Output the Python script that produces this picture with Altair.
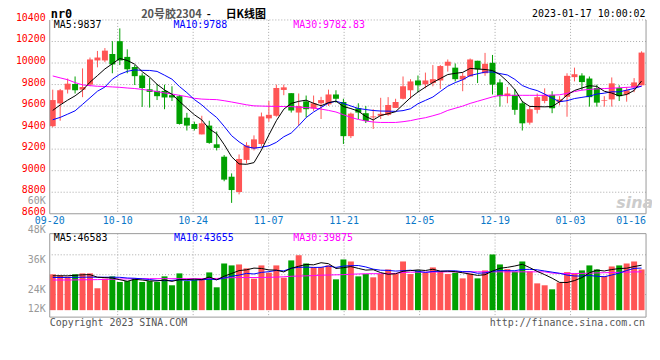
import altair as alt
import pandas as pd

# ---------------- data ----------------
opens = [9413, 9625, 9753, 9805, 9753, 9799, 10024, 10024, 10084, 10203,
         10057, 9963, 9884, 9756, 9741, 9741, 9701, 9692, 9492, 9434,
         9337, 9419, 9245, 9130, 8944, 8802, 9100, 9206, 9248, 9486,
         9510, 9750, 9720, 9540, 9644, 9577, 9626, 9616, 9708, 9638,
         9321, 9580, 9534, 9495, 9510, 9519, 9583, 9668, 9747, 9838,
         9802, 9814, 9838, 9975, 9957, 9847, 9875, 10021, 9905, 10002,
         9820, 9692, 9704, 9626, 9446, 9565, 9647, 9704, 9638, 9686,
         9869, 9884, 9856, 9768, 9650, 9662, 9768, 9708, 9774, 9793]
closes = [9656, 9747, 9808, 9747, 9777, 10033, 10051, 10115, 9987, 10024,
          9942, 9878, 9768, 9732, 9692, 9680, 9680, 9434, 9419, 9388,
          9440, 9258, 9212, 8917, 8820, 9109, 9236, 9291, 9504, 9519,
          9768, 9774, 9559, 9601, 9571, 9626, 9656, 9708, 9668, 9321,
          9530, 9540, 9461, 9504, 9528, 9610, 9638, 9784, 9829, 9793,
          9838, 9850, 9972, 10012, 9850, 9881, 10033, 9942, 9993, 9799,
          9692, 9717, 9565, 9440, 9571, 9683, 9704, 9580, 9662, 9881,
          9896, 9823, 9683, 9632, 9656, 9811, 9692, 9747, 9820, 10097]
highs = [9753, 9759, 9856, 9875, 9950, 10051, 10112, 10139, 10203, 10322,
         10127, 9981, 9905, 9860, 9805, 9799, 9784, 9704, 9537, 9455,
         9510, 9464, 9364, 9145, 8975, 9151, 9264, 9328, 9540, 9647,
         9799, 9799, 9720, 9717, 9698, 9698, 9686, 9753, 9747, 9668,
         9540, 9626, 9601, 9571, 9677, 9683, 9668, 9875, 9850, 9884,
         9911, 9981, 9981, 10033, 9996, 9911, 10042, 10021, 10094, 10075,
         9850, 9777, 9759, 9647, 9601, 9717, 9765, 9738, 9692, 9905,
         9957, 9905, 9875, 9799, 9692, 9866, 9793, 9777, 9860, 10109]
lows = [9404, 9464, 9717, 9717, 9683, 9784, 9960, 10008, 9905, 9981,
        9905, 9796, 9592, 9586, 9656, 9571, 9647, 9428, 9373, 9373,
        9337, 9250, 9188, 8902, 8701, 8780, 9066, 9188, 9227, 9455,
        9501, 9701, 9540, 9419, 9495, 9556, 9480, 9601, 9632, 9248,
        9303, 9480, 9443, 9388, 9480, 9510, 9583, 9662, 9668, 9729,
        9765, 9784, 9759, 9920, 9829, 9738, 9875, 9814, 9881, 9708,
        9595, 9626, 9519, 9373, 9428, 9531, 9626, 9534, 9607, 9501,
        9829, 9747, 9595, 9595, 9595, 9595, 9647, 9641, 9729, 9793]
ma5 = [9560, 9610, 9655, 9695, 9747, 9822, 9883, 9945, 9993, 10042,
       10024, 9989, 9920, 9869, 9802, 9750, 9710, 9644, 9581, 9520,
       9472, 9388, 9343, 9243, 9129, 9063, 9059, 9075, 9192, 9332,
       9464, 9571, 9625, 9644, 9655, 9626, 9603, 9632, 9646, 9596,
       9577, 9553, 9504, 9471, 9513, 9529, 9548, 9613, 9678, 9731,
       9776, 9819, 9856, 9893, 9904, 9913, 9950, 9944, 9940, 9930,
       9892, 9829, 9753, 9643, 9597, 9595, 9593, 9596, 9640, 9702,
       9745, 9768, 9789, 9783, 9738, 9721, 9695, 9708, 9745, 9833]
ma10 = [9473, 9495, 9525, 9556, 9616, 9677, 9738, 9777, 9850, 9895,
        9923, 9936, 9932, 9931, 9922, 9887, 9850, 9782, 9725, 9661,
        9611, 9549, 9494, 9412, 9325, 9268, 9223, 9209, 9218, 9231,
        9263, 9315, 9350, 9418, 9493, 9545, 9587, 9629, 9645, 9625,
        9601, 9578, 9568, 9559, 9554, 9553, 9551, 9558, 9575, 9622,
        9653, 9684, 9735, 9785, 9818, 9845, 9884, 9900, 9916, 9917,
        9902, 9889, 9848, 9791, 9763, 9744, 9711, 9674, 9641, 9650,
        9670, 9681, 9692, 9712, 9720, 9733, 9732, 9748, 9764, 9786]
ma30 = [9880, 9862, 9845, 9818, 9797, 9790, 9784, 9782, 9778, 9774,
        9768, 9763, 9755, 9745, 9735, 9722, 9712, 9700, 9688, 9672,
        9665, 9662, 9660, 9650, 9638, 9625, 9612, 9602, 9600, 9598,
        9597, 9596, 9595, 9590, 9586, 9582, 9572, 9560, 9545, 9520,
        9495, 9476, 9462, 9452, 9448, 9448, 9448, 9455, 9465, 9480,
        9492, 9510, 9530, 9560, 9580, 9600, 9625, 9645, 9665, 9685,
        9700, 9700, 9700, 9700, 9700, 9700, 9700, 9702, 9705, 9718,
        9735, 9748, 9755, 9760, 9763, 9766, 9770, 9774, 9778, 9783]

# volume in thousands of lots
vol = [37.3, 36.2, 34.9, 37.3, 38.3, 38.3, 22.8, 32.8, 35.2, 29.3,
       30.3, 32.8, 29.3, 30.3, 29.3, 35.2, 25.9, 38.3, 30.3, 31.8,
       32.8, 39.3, 23.8, 48.6, 46.6, 47.6, 43.5, 32.8, 46.6, 39.0,
       46.6, 33.8, 51.8, 57.2, 48.6, 44.8, 44.8, 46.6, 32.1, 52.8,
       50.7, 35.2, 37.6, 34.2, 37.6, 42.4, 37.6, 50.7, 37.6, 41.4,
       39.0, 44.5, 40.4, 37.6, 39.0, 33.1, 38.0, 33.1, 41.4, 58.0,
       47.6, 42.7, 40.1, 50.7, 40.4, 27.9, 25.9, 21.7, 28.7, 39.6,
       38.3, 41.4, 46.6, 42.4, 35.5, 45.5, 46.6, 48.6, 50.7, 42.4]
vma5 = [35.8, 35.8, 35.8, 36.3, 36.8, 37.0, 34.3, 33.9, 33.5, 31.7,
        30.1, 32.1, 31.4, 30.4, 30.4, 31.4, 30.0, 31.8, 31.8, 32.3,
        31.8, 34.5, 31.6, 35.3, 38.2, 41.2, 42.0, 43.8, 43.4, 41.9,
        41.7, 39.8, 43.6, 45.7, 47.6, 47.2, 49.4, 48.4, 43.4, 44.2,
        45.4, 43.5, 41.7, 42.1, 39.1, 37.4, 37.9, 40.5, 41.2, 41.9,
        41.3, 42.6, 40.6, 40.6, 40.1, 38.9, 37.6, 36.2, 36.9, 40.7,
        43.6, 44.6, 46.0, 47.8, 44.3, 40.4, 37.0, 33.3, 28.9, 28.8,
        30.8, 33.9, 38.9, 41.7, 40.8, 42.3, 43.3, 43.7, 45.4, 46.8]
vma10 = [34.0, 34.0, 34.1, 34.2, 34.3, 34.4, 34.3, 34.3, 34.3, 34.2,
         33.5, 33.2, 32.6, 31.9, 31.0, 30.7, 31.0, 31.6, 31.1, 31.4,
         31.6, 32.3, 31.7, 33.5, 35.3, 36.5, 38.3, 37.7, 39.3, 40.1,
         41.4, 40.9, 43.7, 44.6, 44.8, 44.5, 44.6, 46.0, 44.5, 45.9,
         46.3, 46.5, 45.0, 42.7, 41.6, 41.4, 40.7, 41.1, 41.6, 40.5,
         39.3, 40.3, 40.5, 40.9, 41.0, 40.1, 40.1, 38.4, 38.8, 40.4,
         41.3, 41.1, 41.1, 42.4, 42.5, 42.0, 40.8, 39.6, 38.4, 36.5,
         35.6, 35.5, 36.1, 35.3, 34.8, 36.6, 38.6, 41.3, 43.5, 43.8]
vma30 = [31.4, 31.4, 31.4, 31.5, 31.6, 31.7, 31.8, 32.0, 32.2, 32.4,
         32.6, 32.7, 32.8, 32.8, 32.8, 32.8, 32.8, 32.8, 32.8, 32.8,
         32.8, 32.9, 33.0, 33.5, 33.8, 33.9, 34.0, 34.0, 34.1, 34.2,
         34.4, 34.8, 35.3, 35.5, 35.7, 36.0, 36.4, 36.6, 36.8, 37.0,
         37.4, 37.7, 37.9, 38.0, 38.0, 38.1, 38.3, 39.2, 39.5, 39.6,
         39.6, 39.7, 39.8, 39.9, 39.9, 39.9, 39.9, 39.9, 39.9, 39.9,
         39.9, 39.9, 39.9, 39.9, 39.9, 39.9, 39.9, 38.6, 38.3, 38.2,
         38.2, 38.3, 38.5, 38.8, 39.0, 39.2, 39.4, 39.6, 39.8, 39.9]

tick_labels = ["09-20", "10-10", "10-24", "11-07", "11-21", "12-05", "12-19", "01-03", "01-16"]
tick_index = [0, 9, 19, 29, 39, 49, 59, 69, 78]
price_ticks = [8600, 8800, 9000, 9200, 9400, 9600, 9800, 10000, 10200, 10400]
vol_label_text = ["60K", "48K", "36K", "24K", "12K"]
vol_label_vals = [60, 48, 36, 24, 12]
vol_grid_vals = [16.25, 36.95, 57.65]
price_legend = ["MA5:9837", "MA10:9788", "MA30:9782.83"]
vol_legend = ["MA5:46583", "MA10:43655", "MA30:39875"]

# ---------------- styles / layout ----------------
RED = "#ff5555"
GREEN = "#00a000"
GRID = "#a8a8a8"
FRAME = "#999999"
BLUE_TXT = "#0a78c8"
MONO = "DejaVu Sans Mono"
CJK = "Noto Sans CJK SC"
W = 600
H = 299          # whole plot: price panel (0..195) + gap + volume panel (215..299)
P_BOT = 195
V_TOP = 215
TOP_Y = -10.8    # top edge of the heading row

n = len(closes)
idx = list(range(n))
price_df = pd.DataFrame({"i": idx, "o": opens, "c": closes, "h": highs, "l": lows,
                         "ma5": ma5, "ma10": ma10, "ma30": ma30})
vol_df = pd.DataFrame({"i": idx, "v": vol, "o": opens, "c": closes,
                       "vma5": vma5, "vma10": vma10, "vma30": vma30})
tick_df = pd.DataFrame({"i": tick_index, "t": tick_labels})
pt_df = pd.DataFrame({"p": price_ticks})

xs = alt.Scale(domain=[0, 80], nice=False, zero=False)
ps = alt.Scale(domain=[7640, 10400], nice=False, zero=False)      # price panel occupies top 195 px
vs = alt.Scale(domain=[-7.245, 302.22], nice=False, zero=False)   # volume bars sit in the bottom panel
vls = alt.Scale(domain=[16.28, 60], range=[291, 181.7], clamp=True, nice=False, zero=False)
candle_color = alt.when("datum.c >= datum.o").then(alt.value(RED)).otherwise(alt.value(GREEN))
XN = dict(scale=xs, axis=None)
DOT = dict(color=GRID, strokeDash=[1, 2], strokeWidth=1)


def label(txt, x, y, color="#000000", font=MONO, size=10, align="left", weight="normal",
          style="normal", baseline="middle"):
    return alt.Chart(pd.DataFrame({"t": [txt]})).mark_text(
        font=font, fontSize=size, color=color, align=align, baseline=baseline,
        fontWeight=weight, fontStyle=style).encode(x=alt.value(x), y=alt.value(y), text="t:N")


def line(base, field, color, scale):
    return base.mark_line(color=color, strokeWidth=1).encode(
        x=alt.X("cx:Q", **XN), y=alt.Y(f"{field}:Q", scale=scale, axis=None))


def frame_rule(**enc):
    return alt.Chart(pd.DataFrame({"k": [0]})).mark_rule(color=FRAME, strokeWidth=1).encode(**enc)


# ---------------- price panel ----------------
bp = alt.Chart(price_df).transform_calculate(cx="datum.i + 0.4", x1="datum.i + 0.8")

hgrid = alt.Chart(pt_df).transform_filter("datum.p > 8600").mark_rule(**DOT).encode(
    y=alt.Y("p:Q", scale=ps, axis=None))
vgrid = alt.Chart(tick_df).transform_filter("datum.i > 0 && datum.i < 78").transform_calculate(
    gx="datum.i * 80 / 79").mark_rule(**DOT).encode(
    x=alt.X("gx:Q", **XN), y=alt.value(0), y2=alt.value(P_BOT))
vgrid_v = alt.Chart(tick_df).transform_filter("datum.i > 0 && datum.i < 78").transform_calculate(
    gx="datum.i * 80 / 79").mark_rule(**DOT).encode(
    x=alt.X("gx:Q", **XN), y=alt.value(V_TOP), y2=alt.value(H))

wick = bp.mark_rule(strokeWidth=1).encode(
    x=alt.X("cx:Q", **XN), y=alt.Y("l:Q", scale=ps, axis=None), y2="h:Q", color=candle_color)
body = bp.mark_rect().encode(
    x=alt.X("i:Q", **XN), x2="x1:Q",
    y=alt.Y("o:Q", scale=ps, axis=None), y2="c:Q", color=candle_color)

ylab = alt.Chart(pt_df).mark_text(font=MONO, fontSize=10, color="#ff0000", align="right",
                                  baseline="middle", dy=-2).encode(
    x=alt.value(-4), y=alt.Y("p:Q", scale=ps, axis=None), text=alt.Text("p:Q", format="d"))
xlab = alt.Chart(tick_df).transform_calculate(gx="min(datum.i * 80 / 79, 78)").mark_text(
    font=MONO, fontSize=10, color=BLUE_TXT, baseline="middle").encode(
    x=alt.X("gx:Q", **XN), y=alt.value(P_BOT + 7), text="t:N")

# ---------------- volume panel ----------------
bv = alt.Chart(vol_df).transform_calculate(cx="datum.i + 0.4", x1="datum.i + 0.8")
vhgrid = alt.Chart(pd.DataFrame({"g": vol_grid_vals})).mark_rule(**DOT).encode(
    y=alt.Y("g:Q", scale=vs, axis=None))
bars = bv.mark_rect().encode(
    x=alt.X("i:Q", **XN), x2="x1:Q",
    y=alt.Y("v:Q", scale=vs, axis=None), y2=alt.datum(0), color=candle_color)
vlab = alt.Chart(pd.DataFrame({"v": vol_label_vals, "t": vol_label_text})).mark_text(
    font=MONO, fontSize=10, color="#999999", align="right", baseline="middle").encode(
    x=alt.value(-4), y=alt.Y("v:Q", scale=vls, axis=None), text="t:N")

frames = [
    frame_rule(x=alt.value(0), y=alt.value(0), y2=alt.value(P_BOT)),
    frame_rule(x=alt.value(W), y=alt.value(0), y2=alt.value(P_BOT)),
    frame_rule(x=alt.value(0), x2=alt.value(W), y=alt.value(P_BOT)),
    frame_rule(x=alt.value(0), y=alt.value(V_TOP), y2=alt.value(H)),
    frame_rule(x=alt.value(W), y=alt.value(V_TOP), y2=alt.value(H)),
    frame_rule(x=alt.value(0), x2=alt.value(W), y=alt.value(V_TOP)),
    frame_rule(x=alt.value(0), x2=alt.value(W), y=alt.value(H)),
]

texts = [
    label("nr0", 1, TOP_Y, size=12, weight="bold", baseline="top"),
    label("20号胶2304", 92, TOP_Y, color="#555555", font=CJK, size=11, weight="bold", baseline="top"),
    label("-", 158, TOP_Y, font=CJK, size=11, weight="bold", baseline="top"),
    label("日K线图", 177, TOP_Y, font=CJK, size=11, weight="bold", baseline="top"),
    label("2023-01-17 10:00:02", 599.5, TOP_Y + 0.3, align="right", baseline="top"),
    label(price_legend[0], 4, 5.5, color="#000000"),
    label(price_legend[1], 124.5, 5.5, color="#0000ff"),
    label(price_legend[2], 245, 5.5, color="#ff00ff"),
    label("sina", 570, 184, color="#cccccc", font="DejaVu Sans", size=16, weight="bold", style="italic"),
    label(vol_legend[0], 4, V_TOP + 4, color="#000000"),
    label(vol_legend[1], 125, V_TOP + 4, color="#0000ff"),
    label(vol_legend[2], 245, V_TOP + 4, color="#ff00ff"),
    label("Copyright 2023 SINA.COM", 0, H + 5.7, color="#555555"),
    label("http://finance.sina.com.cn", 599, H + 5.7, color="#555555", align="right"),
]

chart = alt.layer(
    hgrid, vgrid, vhgrid, vgrid_v,
    wick, body,
    line(bp, "ma30", "#ff00ff", ps), line(bp, "ma10", "#0000ff", ps), line(bp, "ma5", "#000000", ps),
    bars,
    line(bv, "vma30", "#ff00ff", vs), line(bv, "vma10", "#0000ff", vs), line(bv, "vma5", "#000000", vs),
    *frames,
    ylab, xlab, vlab,
    *texts,
).resolve_scale(y="independent").properties(
    width=W, height=H,
    padding={"left": 42, "top": 11, "right": 6, "bottom": 22},
    autosize=alt.AutoSizeParams(type="none"),
    background="#ffffff",
).configure_view(stroke=None)

chart.save("out.html", embed_options={"renderer": "svg", "actions": False})
